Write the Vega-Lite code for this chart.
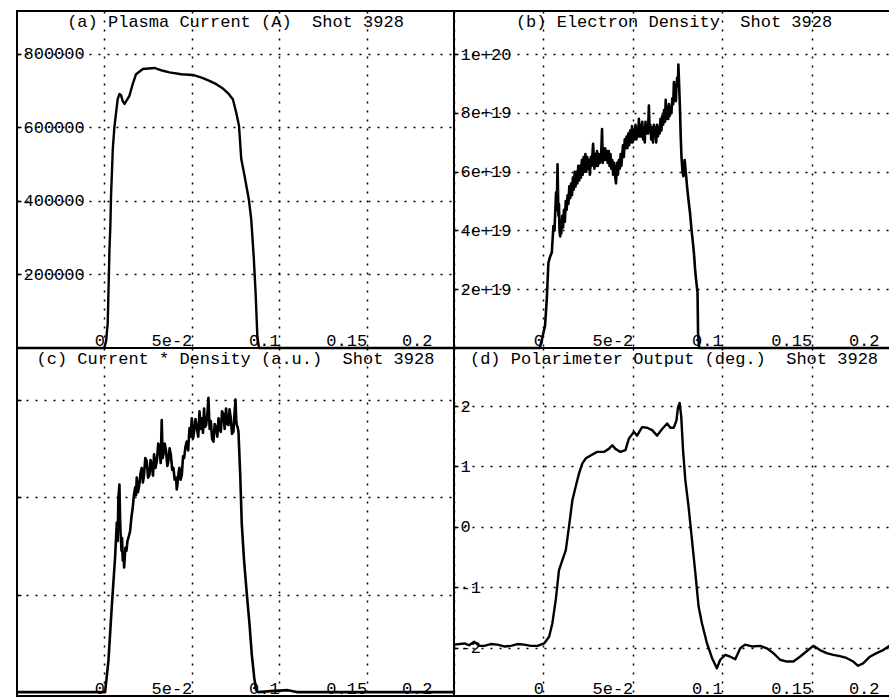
{
  "$schema": "https://vega.github.io/schema/vega-lite/v6.json",
  "usermeta": {"embedOptions": {"actions": false}},
  "background": "white",
  "padding": {"left": 14, "top": 10, "right": 0, "bottom": 0},
  "datasets": {
    "a": [
      {"t": -0.05, "v": 0}, {"t": -0.02, "v": 0}, {"t": 0.0, "v": 0}, {"t": 0.001, "v": 20000},
      {"t": 0.0019, "v": 68000}, {"t": 0.0029, "v": 268000}, {"t": 0.0034, "v": 330000}, {"t": 0.0038, "v": 414000},
      {"t": 0.0048, "v": 541000}, {"t": 0.0057, "v": 600000}, {"t": 0.0067, "v": 641000}, {"t": 0.0076, "v": 677000},
      {"t": 0.0086, "v": 691000}, {"t": 0.0095, "v": 688000}, {"t": 0.0105, "v": 672000}, {"t": 0.0115, "v": 664000},
      {"t": 0.0125, "v": 672000}, {"t": 0.0143, "v": 686000}, {"t": 0.016, "v": 715000}, {"t": 0.0181, "v": 745000},
      {"t": 0.022, "v": 759000}, {"t": 0.0286, "v": 762000}, {"t": 0.033, "v": 755000}, {"t": 0.0372, "v": 750000},
      {"t": 0.044, "v": 745000}, {"t": 0.0506, "v": 743000}, {"t": 0.056, "v": 735000}, {"t": 0.0601, "v": 727000},
      {"t": 0.064, "v": 718000}, {"t": 0.0678, "v": 706000}, {"t": 0.071, "v": 692000}, {"t": 0.0735, "v": 677000},
      {"t": 0.0754, "v": 641000}, {"t": 0.077, "v": 605000}, {"t": 0.0783, "v": 514000}, {"t": 0.0802, "v": 468000},
      {"t": 0.0827, "v": 402000}, {"t": 0.084, "v": 350000}, {"t": 0.0854, "v": 250000}, {"t": 0.0865, "v": 150000},
      {"t": 0.0875, "v": 32000}, {"t": 0.0884, "v": 0}, {"t": 0.2, "v": 0}
    ],
    "b": [
      {"t": -0.05, "v": 0}, {"t": -0.002, "v": 0}, {"t": 0.0009, "v": 0.75e19}, {"t": 0.0019, "v": 1.66e19},
      {"t": 0.0028, "v": 2.9e19}, {"t": 0.0037, "v": 3.1e19}, {"t": 0.0047, "v": 3.25e19}, {"t": 0.0056, "v": 4.15e19},
      {"t": 0.0062, "v": 4.0e19}, {"t": 0.0066, "v": 4.6e19}, {"t": 0.0071, "v": 5.3e19}, {"t": 0.0075, "v": 4.7e19},
      {"t": 0.0079, "v": 6.25e19}, {"t": 0.0084, "v": 4.5e19}, {"t": 0.0087, "v": 4.9e19},
      {"t": 0.009, "v": 4.0e19}, {"t": 0.0094, "v": 3.8e19}, {"t": 0.0097, "v": 4.3e19}, {"t": 0.01, "v": 3.9e19},
      {"t": 0.0105, "v": 4.5e19}, {"t": 0.011, "v": 4.1e19},
      {"t": 0.0115, "v": 4.7e19}, {"t": 0.012, "v": 4.3e19}, {"t": 0.0125, "v": 5.0e19}, {"t": 0.013, "v": 4.7e19},
      {"t": 0.0135, "v": 5.2e19}, {"t": 0.014, "v": 4.9e19}, {"t": 0.0145, "v": 5.5e19}, {"t": 0.015, "v": 5.1e19},
      {"t": 0.0155, "v": 5.6e19}, {"t": 0.016, "v": 5.2e19}, {"t": 0.0165, "v": 5.8e19}, {"t": 0.017, "v": 5.4e19},
      {"t": 0.0175, "v": 6.0e19}, {"t": 0.018, "v": 5.5e19}, {"t": 0.0185, "v": 6.0e19}, {"t": 0.019, "v": 5.6e19},
      {"t": 0.0195, "v": 6.2e19}, {"t": 0.02, "v": 5.7e19}, {"t": 0.0205, "v": 6.2e19}, {"t": 0.021, "v": 5.8e19},
      {"t": 0.0215, "v": 6.4e19}, {"t": 0.022, "v": 5.9e19}, {"t": 0.0225, "v": 6.5e19}, {"t": 0.023, "v": 6.0e19},
      {"t": 0.0235, "v": 6.6e19}, {"t": 0.024, "v": 6.0e19}, {"t": 0.0245, "v": 6.5e19}, {"t": 0.025, "v": 6.1e19},
      {"t": 0.0255, "v": 6.4e19}, {"t": 0.026, "v": 5.9e19}, {"t": 0.0265, "v": 6.5e19}, {"t": 0.027, "v": 6.2e19},
      {"t": 0.0278, "v": 6.95e19}, {"t": 0.0285, "v": 6.1e19}, {"t": 0.029, "v": 6.6e19}, {"t": 0.0295, "v": 6.2e19},
      {"t": 0.03, "v": 6.7e19}, {"t": 0.0305, "v": 6.2e19}, {"t": 0.031, "v": 6.6e19}, {"t": 0.0315, "v": 6.3e19},
      {"t": 0.0322, "v": 6.4e19}, {"t": 0.0328, "v": 7.45e19}, {"t": 0.0332, "v": 6.3e19}, {"t": 0.0336, "v": 6.8e19},
      {"t": 0.034, "v": 6.4e19}, {"t": 0.0345, "v": 6.8e19}, {"t": 0.035, "v": 6.4e19}, {"t": 0.0355, "v": 6.7e19},
      {"t": 0.036, "v": 6.3e19}, {"t": 0.0365, "v": 6.7e19}, {"t": 0.037, "v": 6.2e19}, {"t": 0.0375, "v": 6.6e19},
      {"t": 0.038, "v": 6.1e19}, {"t": 0.0385, "v": 6.4e19}, {"t": 0.039, "v": 5.9e19}, {"t": 0.0395, "v": 6.3e19},
      {"t": 0.04, "v": 5.9e19}, {"t": 0.0406, "v": 5.6e19}, {"t": 0.0412, "v": 6.3e19}, {"t": 0.0417, "v": 5.9e19},
      {"t": 0.0422, "v": 6.4e19}, {"t": 0.0427, "v": 6.1e19}, {"t": 0.0432, "v": 6.6e19}, {"t": 0.0436, "v": 6.2e19},
      {"t": 0.044, "v": 6.5e19}, {"t": 0.0445, "v": 6.9e19}, {"t": 0.045, "v": 6.5e19}, {"t": 0.0455, "v": 7.1e19},
      {"t": 0.046, "v": 6.8e19}, {"t": 0.0465, "v": 7.2e19}, {"t": 0.047, "v": 6.8e19}, {"t": 0.0475, "v": 7.3e19},
      {"t": 0.048, "v": 6.9e19}, {"t": 0.0485, "v": 7.4e19}, {"t": 0.049, "v": 7.0e19}, {"t": 0.0496, "v": 7.55e19},
      {"t": 0.05, "v": 7.0e19}, {"t": 0.0505, "v": 7.4e19}, {"t": 0.051, "v": 7.1e19}, {"t": 0.0515, "v": 7.6e19},
      {"t": 0.052, "v": 7.1e19}, {"t": 0.0525, "v": 7.5e19}, {"t": 0.053, "v": 7.2e19}, {"t": 0.0534, "v": 7.8e19},
      {"t": 0.0538, "v": 7.2e19}, {"t": 0.0543, "v": 7.6e19}, {"t": 0.0548, "v": 7.2e19}, {"t": 0.0553, "v": 7.7e19},
      {"t": 0.0558, "v": 7.1e19}, {"t": 0.0562, "v": 7.5e19}, {"t": 0.0567, "v": 7.0e19}, {"t": 0.0571, "v": 7.7e19},
      {"t": 0.0576, "v": 7.3e19}, {"t": 0.058, "v": 7.6e19}, {"t": 0.0585, "v": 7.3e19}, {"t": 0.059, "v": 8.25e19},
      {"t": 0.0594, "v": 7.4e19}, {"t": 0.0598, "v": 7.6e19}, {"t": 0.0603, "v": 7.1e19}, {"t": 0.0609, "v": 7.5e19},
      {"t": 0.0613, "v": 7.0e19}, {"t": 0.0618, "v": 7.6e19}, {"t": 0.0622, "v": 7.2e19}, {"t": 0.0627, "v": 7.5e19},
      {"t": 0.0631, "v": 7.0e19}, {"t": 0.0636, "v": 7.6e19}, {"t": 0.0641, "v": 7.2e19}, {"t": 0.0646, "v": 7.5e19},
      {"t": 0.065, "v": 7.3e19}, {"t": 0.0655, "v": 7.8e19}, {"t": 0.066, "v": 7.4e19}, {"t": 0.0665, "v": 7.9e19},
      {"t": 0.067, "v": 7.6e19}, {"t": 0.0675, "v": 8.1e19}, {"t": 0.068, "v": 7.7e19}, {"t": 0.0684, "v": 8.45e19},
      {"t": 0.0688, "v": 7.8e19}, {"t": 0.0693, "v": 8.2e19}, {"t": 0.0698, "v": 7.8e19}, {"t": 0.0702, "v": 8.3e19},
      {"t": 0.0707, "v": 7.9e19}, {"t": 0.0712, "v": 8.2e19}, {"t": 0.0716, "v": 8.0e19}, {"t": 0.0721, "v": 8.5e19},
      {"t": 0.0726, "v": 8.3e19}, {"t": 0.073, "v": 9.05e19}, {"t": 0.0734, "v": 8.5e19}, {"t": 0.0738, "v": 8.7e19},
      {"t": 0.0741, "v": 8.4e19}, {"t": 0.0744, "v": 8.9e19}, {"t": 0.0748, "v": 9.2e19}, {"t": 0.0752, "v": 8.9e19},
      {"t": 0.0755, "v": 9.65e19}, {"t": 0.076, "v": 8.8e19},
      {"t": 0.0764, "v": 8.1e19}, {"t": 0.0768, "v": 7.2e19}, {"t": 0.0772, "v": 6.55e19}, {"t": 0.0778, "v": 6.0e19},
      {"t": 0.0783, "v": 5.85e19}, {"t": 0.079, "v": 6.4e19}, {"t": 0.0796, "v": 6.0e19}, {"t": 0.0805, "v": 5.4e19},
      {"t": 0.0815, "v": 4.85e19}, {"t": 0.082, "v": 4.6e19}, {"t": 0.0828, "v": 4.05e19}, {"t": 0.0836, "v": 3.6e19},
      {"t": 0.0843, "v": 3.15e19}, {"t": 0.0848, "v": 2.7e19}, {"t": 0.0852, "v": 2.45e19}, {"t": 0.0858, "v": 2.1e19},
      {"t": 0.0862, "v": 1.9e19}, {"t": 0.0865, "v": 0.5e19}, {"t": 0.0871, "v": 0}, {"t": 0.2, "v": 0}
    ],
    "c": [
      {"t": -0.05, "v": 0}, {"t": 0.0004, "v": 0}, {"t": 0.0023, "v": 0.32}, {"t": 0.0042, "v": 0.87},
      {"t": 0.0061, "v": 1.38}, {"t": 0.0071, "v": 1.74}, {"t": 0.0076, "v": 1.55}, {"t": 0.008, "v": 1.99},
      {"t": 0.0086, "v": 2.13}, {"t": 0.009, "v": 1.75}, {"t": 0.0093, "v": 1.62}, {"t": 0.0098, "v": 1.45},
      {"t": 0.0101, "v": 1.58}, {"t": 0.0105, "v": 1.35}, {"t": 0.0109, "v": 1.42}, {"t": 0.0113, "v": 1.28},
      {"t": 0.0117, "v": 1.4}, {"t": 0.012, "v": 1.48}, {"t": 0.0126, "v": 1.45}, {"t": 0.0132, "v": 1.55},
      {"t": 0.014, "v": 1.6}, {"t": 0.0147, "v": 1.65}, {"t": 0.0155, "v": 1.8}, {"t": 0.0162, "v": 1.89},
      {"t": 0.0169, "v": 2.02}, {"t": 0.0176, "v": 2.1}, {"t": 0.0181, "v": 2.02}, {"t": 0.0185, "v": 2.2},
      {"t": 0.0192, "v": 2.05}, {"t": 0.02, "v": 2.13}, {"t": 0.0207, "v": 2.25}, {"t": 0.0214, "v": 2.3},
      {"t": 0.022, "v": 2.15}, {"t": 0.0227, "v": 2.23}, {"t": 0.0234, "v": 2.4}, {"t": 0.0242, "v": 2.37},
      {"t": 0.025, "v": 2.2}, {"t": 0.0258, "v": 2.23}, {"t": 0.0264, "v": 2.38}, {"t": 0.0271, "v": 2.33},
      {"t": 0.0278, "v": 2.22}, {"t": 0.0284, "v": 2.44}, {"t": 0.0292, "v": 2.3}, {"t": 0.03, "v": 2.37},
      {"t": 0.0308, "v": 2.55}, {"t": 0.0315, "v": 2.5}, {"t": 0.0322, "v": 2.35}, {"t": 0.0328, "v": 2.79},
      {"t": 0.0333, "v": 2.4}, {"t": 0.0338, "v": 2.44}, {"t": 0.0345, "v": 2.55}, {"t": 0.0353, "v": 2.47},
      {"t": 0.036, "v": 2.32}, {"t": 0.0366, "v": 2.37}, {"t": 0.0373, "v": 2.5}, {"t": 0.038, "v": 2.44},
      {"t": 0.0388, "v": 2.28}, {"t": 0.0395, "v": 2.3}, {"t": 0.0402, "v": 2.18}, {"t": 0.041, "v": 2.2},
      {"t": 0.0414, "v": 2.08}, {"t": 0.0418, "v": 2.13}, {"t": 0.0424, "v": 2.25}, {"t": 0.0429, "v": 2.3},
      {"t": 0.0436, "v": 2.18}, {"t": 0.0443, "v": 2.23}, {"t": 0.045, "v": 2.42}, {"t": 0.0456, "v": 2.4},
      {"t": 0.0464, "v": 2.52}, {"t": 0.0471, "v": 2.57}, {"t": 0.0479, "v": 2.48}, {"t": 0.0487, "v": 2.71},
      {"t": 0.0494, "v": 2.62}, {"t": 0.05, "v": 2.81}, {"t": 0.0507, "v": 2.6}, {"t": 0.0513, "v": 2.67},
      {"t": 0.0521, "v": 2.8}, {"t": 0.0529, "v": 2.71}, {"t": 0.0537, "v": 2.62}, {"t": 0.0544, "v": 2.88},
      {"t": 0.0551, "v": 2.7}, {"t": 0.0557, "v": 2.81}, {"t": 0.0564, "v": 2.66}, {"t": 0.057, "v": 2.91},
      {"t": 0.0576, "v": 2.72}, {"t": 0.0582, "v": 2.74}, {"t": 0.0589, "v": 2.85}, {"t": 0.0595, "v": 3.02},
      {"t": 0.0602, "v": 2.7}, {"t": 0.0609, "v": 2.78}, {"t": 0.0616, "v": 2.6}, {"t": 0.0624, "v": 2.57},
      {"t": 0.0631, "v": 2.75}, {"t": 0.0639, "v": 2.71}, {"t": 0.0646, "v": 2.62}, {"t": 0.0653, "v": 2.81},
      {"t": 0.066, "v": 2.7}, {"t": 0.0666, "v": 2.67}, {"t": 0.0673, "v": 2.88}, {"t": 0.0681, "v": 2.85},
      {"t": 0.0688, "v": 2.7}, {"t": 0.0696, "v": 2.91}, {"t": 0.0703, "v": 2.75}, {"t": 0.071, "v": 2.74},
      {"t": 0.0716, "v": 2.9}, {"t": 0.0723, "v": 2.81}, {"t": 0.073, "v": 2.65}, {"t": 0.0738, "v": 2.67},
      {"t": 0.0744, "v": 2.85}, {"t": 0.075, "v": 3.0}, {"t": 0.0754, "v": 2.8}, {"t": 0.0757, "v": 2.74},
      {"t": 0.0762, "v": 2.72}, {"t": 0.0767, "v": 2.67}, {"t": 0.0777, "v": 2.23}, {"t": 0.0786, "v": 1.72},
      {"t": 0.0799, "v": 1.35}, {"t": 0.0815, "v": 1.0}, {"t": 0.083, "v": 0.7}, {"t": 0.0843, "v": 0.39},
      {"t": 0.0857, "v": 0.15}, {"t": 0.0868, "v": 0.02}, {"t": 0.088, "v": 0}, {"t": 0.095, "v": 0.01},
      {"t": 0.105, "v": 0.02}, {"t": 0.11, "v": 0}, {"t": 0.2, "v": 0}
    ],
    "d": [
      {"t": -0.05, "v": -1.95}, {"t": -0.0442, "v": -1.93}, {"t": -0.0415, "v": -1.96}, {"t": -0.0387, "v": -1.9},
      {"t": -0.036, "v": -1.97}, {"t": -0.0331, "v": -1.97}, {"t": -0.0295, "v": -1.94}, {"t": -0.0257, "v": -1.95},
      {"t": -0.022, "v": -1.98}, {"t": -0.0182, "v": -1.97}, {"t": -0.0145, "v": -1.94}, {"t": -0.0108, "v": -1.95},
      {"t": -0.007, "v": -1.97}, {"t": -0.0033, "v": -1.97}, {"t": 0.0004, "v": -1.93}, {"t": 0.0032, "v": -1.82},
      {"t": 0.005, "v": -1.6}, {"t": 0.0069, "v": -1.21}, {"t": 0.0087, "v": -0.72}, {"t": 0.0106, "v": -0.55},
      {"t": 0.0125, "v": -0.39}, {"t": 0.0143, "v": 0.0}, {"t": 0.0162, "v": 0.44}, {"t": 0.018, "v": 0.66},
      {"t": 0.0199, "v": 0.88}, {"t": 0.0218, "v": 1.05}, {"t": 0.0236, "v": 1.13}, {"t": 0.0264, "v": 1.18},
      {"t": 0.0301, "v": 1.24}, {"t": 0.0338, "v": 1.24}, {"t": 0.0366, "v": 1.29}, {"t": 0.0385, "v": 1.35},
      {"t": 0.0403, "v": 1.29}, {"t": 0.0431, "v": 1.24}, {"t": 0.0459, "v": 1.27}, {"t": 0.0478, "v": 1.46},
      {"t": 0.0506, "v": 1.57}, {"t": 0.0524, "v": 1.51}, {"t": 0.0552, "v": 1.65}, {"t": 0.058, "v": 1.64},
      {"t": 0.0608, "v": 1.6}, {"t": 0.0636, "v": 1.51}, {"t": 0.0664, "v": 1.62}, {"t": 0.0692, "v": 1.71},
      {"t": 0.071, "v": 1.64}, {"t": 0.0729, "v": 1.64}, {"t": 0.0744, "v": 1.76}, {"t": 0.0753, "v": 1.98},
      {"t": 0.0762, "v": 2.05}, {"t": 0.0771, "v": 1.82}, {"t": 0.0781, "v": 1.27}, {"t": 0.0794, "v": 0.77},
      {"t": 0.0812, "v": 0.33}, {"t": 0.0831, "v": -0.22}, {"t": 0.085, "v": -0.77}, {"t": 0.0868, "v": -1.32},
      {"t": 0.0887, "v": -1.6}, {"t": 0.0915, "v": -1.93}, {"t": 0.0943, "v": -2.17}, {"t": 0.097, "v": -2.34},
      {"t": 0.0989, "v": -2.2}, {"t": 0.1017, "v": -2.12}, {"t": 0.1045, "v": -2.15}, {"t": 0.1073, "v": -2.19},
      {"t": 0.1101, "v": -2.01}, {"t": 0.1128, "v": -1.95}, {"t": 0.1166, "v": -1.98}, {"t": 0.1212, "v": -1.97},
      {"t": 0.1249, "v": -2.01}, {"t": 0.1286, "v": -2.09}, {"t": 0.1324, "v": -2.2}, {"t": 0.1361, "v": -2.23},
      {"t": 0.1398, "v": -2.23}, {"t": 0.1435, "v": -2.15}, {"t": 0.1472, "v": -2.06}, {"t": 0.151, "v": -1.97},
      {"t": 0.1547, "v": -2.04}, {"t": 0.1584, "v": -2.09}, {"t": 0.1621, "v": -2.12}, {"t": 0.1658, "v": -2.14},
      {"t": 0.1695, "v": -2.17}, {"t": 0.1733, "v": -2.23}, {"t": 0.176, "v": -2.3}, {"t": 0.1788, "v": -2.26},
      {"t": 0.1826, "v": -2.15}, {"t": 0.1863, "v": -2.09}, {"t": 0.19, "v": -2.04}, {"t": 0.1946, "v": -1.95},
      {"t": 0.2, "v": -1.92}
    ]
  },
  "spacing": 0,
  "bounds": "flush",
  "columns": 2,
  "concat": [
    {
      "width": 437, "height": 337,
      "title": {"text": "(a) Plasma Current (A)\u00a0\u00a0Shot 3928"},
      "data": {"name": "a"},
      "mark": {"type": "line", "color": "black", "strokeWidth": 2.4, "strokeJoin": "round"},
      "encoding": {
        "x": {"field": "t", "type": "quantitative", "title": null,
              "scale": {"domain": [-0.05, 0.2], "nice": false, "zero": false},
              "axis": {"values": [0, 0.05, 0.1, 0.15, 0.2],
                       "labelExpr": "datum.value == 0.05 ? '5e-2' : '' + datum.value",
                       "labelOffset": {"condition": {"test": "datum.value >= 0.2", "value": -22}, "value": 0}}},
        "y": {"field": "v", "type": "quantitative", "title": null,
              "scale": {"domain": [0, 917000], "nice": false},
              "axis": {"values": [200000, 400000, 600000, 800000], "format": "d"}}
      }
    },
    {
      "width": 440, "height": 337,
      "title": {"text": "(b) Electron Density\u00a0\u00a0Shot 3928"},
      "data": {"name": "b"},
      "mark": {"type": "line", "color": "black", "strokeWidth": 2.6, "strokeJoin": "round"},
      "encoding": {
        "x": {"field": "t", "type": "quantitative", "title": null,
              "scale": {"domain": [-0.05, 0.2], "range": [0, 447], "nice": false, "zero": false},
              "axis": {"values": [0, 0.05, 0.1, 0.15, 0.2],
                       "labelExpr": "datum.value == 0.05 ? '5e-2' : '' + datum.value",
                       "labelOffset": {"condition": {"test": "datum.value >= 0.2", "value": -22}, "value": 0}}},
        "y": {"field": "v", "type": "quantitative", "title": null,
              "scale": {"domain": [0, 1.147e20], "nice": false},
              "axis": {"values": [2e19, 4e19, 6e19, 8e19, 1e20], "format": ".0e"}}
      }
    },
    {
      "width": 437, "height": 348,
      "title": {"text": "(c) Current * Density (a.u.)\u00a0\u00a0Shot 3928"},
      "data": {"name": "c"},
      "mark": {"type": "line", "color": "black", "strokeWidth": 2.6, "strokeJoin": "round"},
      "encoding": {
        "x": {"field": "t", "type": "quantitative", "title": null,
              "scale": {"domain": [-0.05, 0.2], "nice": false, "zero": false},
              "axis": {"values": [0, 0.05, 0.1, 0.15, 0.2],
                       "labelExpr": "datum.value == 0.05 ? '5e-2' : '' + datum.value",
                       "labelOffset": {"condition": {"test": "datum.value >= 0.2", "value": -22}, "value": 0}}},
        "y": {"field": "v", "type": "quantitative", "title": null,
              "scale": {"domain": [-0.04, 3.53], "nice": false, "zero": false},
              "axis": {"values": [1, 2, 3], "labels": false}}
      }
    },
    {
      "width": 440, "height": 348,
      "title": {"text": "(d) Polarimeter Output (deg.)\u00a0\u00a0Shot 3928"},
      "data": {"name": "d"},
      "mark": {"type": "line", "color": "black", "strokeWidth": 2.4, "strokeJoin": "round"},
      "encoding": {
        "x": {"field": "t", "type": "quantitative", "title": null,
              "scale": {"domain": [-0.05, 0.2], "range": [0, 447], "nice": false, "zero": false},
              "axis": {"values": [0, 0.05, 0.1, 0.15, 0.2],
                       "labelExpr": "datum.value == 0.05 ? '5e-2' : '' + datum.value",
                       "labelOffset": {"condition": {"test": "datum.value >= 0.2", "value": -22}, "value": 0}}},
        "y": {"field": "v", "type": "quantitative", "title": null,
              "scale": {"domain": [-2.8, 2.96], "nice": false, "zero": false},
              "axis": {"values": [-2, -1, 0, 1, 2], "labelExpr": "'' + datum.value"}}
      }
    }
  ],
  "config": {
    "view": {"stroke": "black", "strokeWidth": 2},
    "axis": {
      "domain": false, "grid": true, "gridColor": "black", "gridDash": [2, 7], "gridWidth": 1.5, "gridOpacity": 1,
      "labelFont": "Liberation Mono", "labelFontSize": 17, "labelColor": "black",
      "labelOverlap": false, "labelFlush": false, "labelBound": false
    },
    "axisX": {"ticks": false, "tickSize": 0, "labelPadding": -3, "labelBaseline": "alphabetic", "labelAlign": "right"},
    "axisY": {"ticks": true, "tickSize": -4, "tickColor": "black", "tickWidth": 1.5, "labelAlign": "left", "labelPadding": -2},
    "title": {"font": "Liberation Mono", "fontSize": 17, "fontWeight": "normal", "color": "black",
              "offset": -20, "baseline": "alphabetic", "anchor": "middle", "frame": "group"}
  }
}
